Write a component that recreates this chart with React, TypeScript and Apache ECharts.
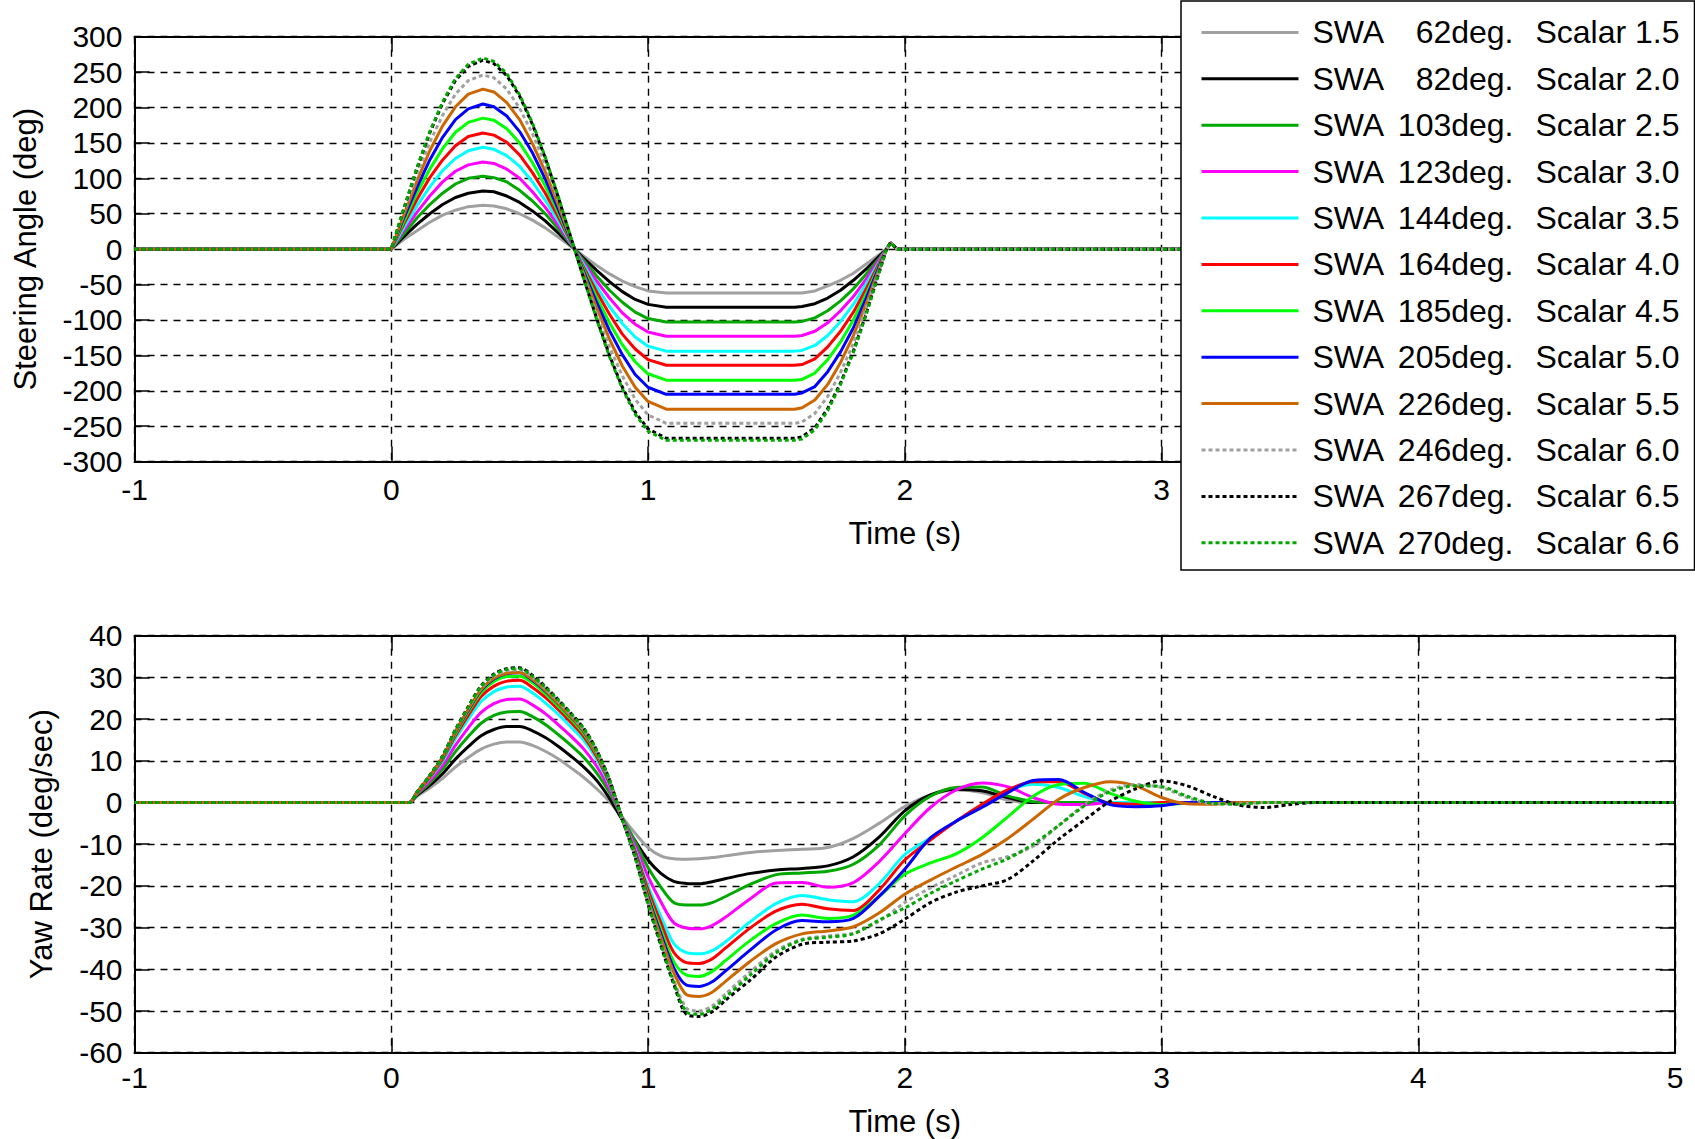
import React, { useEffect, useRef } from 'react';
import * as echarts from 'echarts';

const FONT = '"Liberation Sans", Arial, Helvetica, sans-serif';

// Legend entries
const SWA_DEG = [62, 82, 103, 123, 144, 164, 185, 205, 226, 246, 267, 270];
const SCALARS = ['1.5', '2.0', '2.5', '3.0', '3.5', '4.0', '4.5', '5.0', '5.5', '6.0', '6.5', '6.6'];
const COLORS = ['#a0a0a0', '#000000', '#00a800', '#ff00ff', '#00ffff', '#ff0000', '#00ff00', '#0000ff', '#cc6600', '#a0a0a0', '#000000', '#00a800'];
const DOTTED = [false, false, false, false, false, false, false, false, false, true, true, true];

// Top plot: steering angle (deg) vs time (s)
const T_SWA = [-1, 0, 0.05, 0.1, 0.15, 0.2, 0.25, 0.3, 0.357, 0.4, 0.45, 0.5, 0.55, 0.6, 0.65, 0.714, 0.75, 0.8, 0.85, 0.9, 0.95, 1.0, 1.071, 1.571, 1.6, 1.65, 1.7, 1.75, 1.8, 1.85, 1.9, 1.929, 1.945, 1.97, 5];
const SWA_62 = [0, 0, 14, 26, 38, 48, 55, 60, 62, 61, 57, 50, 41, 30, 17, 0, -10, -23, -35, -45, -53, -59, -62, -62, -62, -59, -52, -44, -34, -21, -8, 0, 9, 0, 0];
const SWA_82 = [0, 0, 18, 35, 50, 63, 73, 79, 82, 81, 75, 66, 54, 40, 23, 0, -13, -30, -46, -60, -71, -78, -82, -82, -81, -77, -69, -58, -44, -28, -10, 0, 9, 0, 0];
const SWA_103 = [0, 0, 22, 44, 63, 79, 92, 100, 103, 101, 95, 83, 68, 50, 29, 0, -16, -38, -58, -75, -89, -98, -103, -103, -102, -97, -87, -73, -56, -35, -13, 0, 9, 0, 0];
const SWA_123 = [0, 0, 27, 52, 75, 95, 110, 119, 123, 121, 113, 100, 81, 59, 34, 0, -19, -45, -69, -90, -106, -117, -123, -123, -122, -116, -104, -87, -67, -42, -15, 0, 9, 0, 0];
const SWA_144 = [0, 0, 31, 61, 88, 111, 128, 139, 144, 141, 132, 117, 95, 69, 40, 0, -22, -53, -81, -105, -124, -137, -144, -144, -143, -136, -122, -102, -78, -49, -18, 0, 9, 0, 0];
const SWA_164 = [0, 0, 36, 70, 101, 126, 146, 159, 164, 161, 151, 133, 108, 79, 46, 0, -26, -60, -92, -120, -141, -156, -164, -164, -163, -155, -138, -116, -89, -56, -20, 0, 9, 0, 0];
const SWA_185 = [0, 0, 40, 79, 113, 142, 165, 179, 185, 182, 170, 150, 122, 89, 52, 0, -29, -68, -104, -135, -159, -176, -185, -185, -184, -175, -156, -131, -100, -63, -23, 0, 9, 0, 0];
const SWA_205 = [0, 0, 45, 87, 126, 158, 183, 198, 205, 201, 188, 166, 136, 99, 57, 0, -32, -75, -115, -149, -177, -195, -205, -205, -203, -194, -173, -145, -111, -69, -25, 0, 9, 0, 0];
const SWA_226 = [0, 0, 49, 96, 139, 174, 201, 219, 226, 222, 207, 183, 149, 109, 63, 0, -35, -83, -127, -165, -195, -215, -226, -226, -224, -213, -191, -160, -122, -77, -28, 0, 9, 0, 0];
const SWA_246 = [0, 0, 54, 105, 151, 189, 219, 238, 246, 242, 226, 199, 163, 119, 69, 0, -38, -91, -138, -179, -212, -234, -246, -246, -244, -232, -208, -174, -133, -83, -31, 0, 9, 0, 0];
const SWA_267 = [0, 0, 58, 114, 164, 206, 238, 258, 267, 262, 245, 216, 176, 129, 74, 0, -42, -98, -150, -195, -230, -254, -267, -267, -265, -252, -225, -189, -144, -91, -33, 0, 9, 0, 0];
const SWA_270 = [0, 0, 59, 115, 166, 208, 241, 261, 270, 265, 248, 218, 178, 130, 75, 0, -42, -99, -152, -197, -233, -257, -270, -270, -268, -255, -228, -191, -146, -92, -33, 0, 9, 0, 0];
const SWA_SERIES = [SWA_62, SWA_82, SWA_103, SWA_123, SWA_144, SWA_164, SWA_185, SWA_205, SWA_226, SWA_246, SWA_267, SWA_270];

// Bottom plot: yaw rate (deg/sec) vs time (s)
const T_YAW = [-1, 0, 0.07,
  0.1, 0.15, 0.2, 0.25, 0.3,
  0.35, 0.4, 0.45, 0.5, 0.55,
  0.6, 0.65, 0.7, 0.75, 0.8,
  0.85, 0.9, 0.95, 1.0, 1.05,
  1.1, 1.15, 1.2, 1.25, 1.3,
  1.4, 1.5, 1.6, 1.7, 1.8,
  1.9, 2.0, 2.1, 2.2, 2.3,
  2.4, 2.5, 2.6, 2.7, 2.8,
  2.9, 3.0, 3.1, 3.2, 3.3,
  3.4, 3.5, 3.6, 5];
const YAW_62 = [0, 0, 0,
  1.5, 3.5, 5.8, 8.5, 10.8,
  12.8, 14, 14.5, 14.5, 13.7,
  12.3, 10.5, 8.3, 6, 3.3,
  0.2, -3.6, -7.4, -10.8, -12.8,
  -13.5, -13.6, -13.5, -13.2, -12.8,
  -12, -11.5, -11.2, -10.8, -8.6,
  -5, -1, 1.8, 3, 2.4,
  0.6, 0, 0, 0, 0,
  0, 0, 0, 0, 0,
  0, 0, 0, 0];
const YAW_82 = [0, 0, 0,
  1.7, 4.1, 6.9, 10.4, 13.4,
  16, 17.5, 18.2, 18.2, 17.2,
  15.6, 13.5, 11.1, 8.5, 5.3,
  1, -4.2, -9.2, -13.8, -17,
  -18.9, -19.4, -19.5, -19, -18.3,
  -17, -16.2, -15.8, -15.2, -13,
  -8.3, -2, 1.8, 3.2, 2.8,
  1.2, 0, 0, 0, 0,
  0, 0, 0, 0, 0,
  0, 0, 0, 0];
const YAW_103 = [0, 0, 0,
  1.9, 4.7, 8, 12.2, 15.8,
  19, 20.9, 21.7, 21.8, 20.6,
  18.7, 16.3, 13.7, 10.8, 7.1,
  2.4, -3.7, -9.4, -15.6, -20.3,
  -24, -24.6, -24.6, -24, -22.6,
  -19.6, -17.3, -16.9, -16.5, -14.8,
  -10.2, -3.2, 1.5, 3.6, 3.7,
  1.6, 0.2, 0, 0, 0,
  0, 0, 0, 0, 0,
  0, 0, 0, 0];
const YAW_123 = [0, 0, 0,
  2.1, 5.2, 8.9, 13.7, 17.9,
  21.6, 23.7, 24.7, 24.8, 23.4,
  21.3, 18.7, 15.9, 12.8, 8.7,
  3.3, -3.8, -10.4, -17.7, -23.8,
  -28.8, -30.1, -30.3, -29.5, -27.6,
  -23, -19.3, -19.2, -20.3, -19.2,
  -14.2, -7.5, -1.2, 3, 4.7,
  3.8, 1.2, -0.4, -0.5, 0,
  0, 0, 0, 0, 0,
  0, 0, 0, 0];
const YAW_144 = [0, 0, 0,
  2.3, 5.8, 9.9, 15.3, 20,
  24.2, 26.6, 27.7, 27.9, 26.3,
  23.9, 21.2, 18.1, 14.9, 10.3,
  4.2, -3.9, -11.3, -20, -27.3,
  -33.8, -36, -36.3, -35.5, -33.5,
  -28.5, -24.2, -22.3, -23.3, -23.8,
  -19.5, -12.5, -8.5, -4.5, -0.6,
  2.8, 4.4, 3.6, 1.4, 0,
  0, 0, 0, 0, 0,
  0, 0, 0, 0];
const YAW_164 = [0, 0, 0,
  2.3, 6, 10.3, 16, 20.9,
  25.4, 27.9, 29.1, 29.3, 27.6,
  25.2, 22.3, 19.2, 15.8, 11,
  4.6, -3.9, -11.7, -20.9, -28.8,
  -35.9, -38.4, -38.6, -37.5, -35,
  -30, -26, -24.4, -25.5, -25.9,
  -21, -13.8, -9, -4.5, -0.5,
  3, 5, 5, 2.2, -0.2,
  -0.4, 0, 0, 0, 0,
  0, 0, 0, 0];
const YAW_185 = [0, 0, 0,
  2.4, 6.2, 10.6, 16.5, 21.7,
  26.3, 29, 30.2, 30.3, 28.7,
  26.1, 23.1, 20, 16.5, 11.6,
  4.9, -3.9, -12.2, -22, -30.4,
  -38.1, -41.4, -41.7, -40.5, -38,
  -33, -29, -27, -27.8, -27,
  -22.5, -17.2, -14.5, -12.3, -8.5,
  -3.5, 1.5, 4.3, 4.6, 2.2,
  0.3, -0.5, -0.2, 0, 0,
  0, 0, 0, 0];
const YAW_205 = [0, 0, 0,
  2.4, 6.3, 10.8, 16.9, 22.1,
  26.9, 29.6, 30.9, 31.1, 29.3,
  26.7, 23.7, 20.5, 17, 12,
  5.1, -4, -12.4, -22.6, -31.5,
  -39.6, -43.8, -44.1, -43, -40.5,
  -35.3, -30.5, -28.3, -28.6, -27.8,
  -22.5, -16, -8.5, -4.5, -1.2,
  2.3, 5.3, 5.5, 2.4, -0.5,
  -1, -0.8, 0, 0, 0,
  0, 0, 0, 0];
const YAW_226 = [0, 0, 0,
  2.4, 6.3, 10.9, 17, 22.3,
  27.1, 29.8, 31, 31.2, 29.5,
  26.9, 23.8, 20.6, 17.1, 12,
  5.2, -4, -12.7, -23.1, -32.3,
  -40.7, -46.1, -46.5, -45.5, -43,
  -38, -33.8, -31.5, -30.8, -29.8,
  -26.5, -22, -18.6, -15.5, -12.5,
  -8.7, -4, 0.8, 3.6, 5,
  4, 1.2, -0.3, -0.4, 0,
  0, 0, 0, 0];
const YAW_246 = [0, 0, 0,
  2.5, 6.4, 11, 17.2, 22.6,
  27.5, 30.3, 31.6, 31.8, 30,
  27.3, 24.3, 21, 17.4, 12.3,
  5.3, -4, -13, -24, -33.6,
  -42.5, -49.3, -50, -48.8, -46,
  -40.5, -35.5, -32.8, -32, -31.3,
  -28.5, -24, -20.5, -17.5, -14.5,
  -13, -10.5, -5.5, -0.5, 3,
  4.3, 3.6, 1.2, -0.3, -0.3,
  0, 0, 0, 0];
const YAW_267 = [0, 0, 0,
  2.5, 6.5, 11.2, 17.5, 23,
  28, 30.8, 32.1, 32.3, 30.5,
  27.8, 24.7, 21.4, 17.8, 12.6,
  5.5, -4, -13.2, -24.4, -34.3,
  -43.5, -50.8, -51.3, -50.2, -47.5,
  -42.5, -37, -34, -33.5, -33.2,
  -31.5, -28, -24, -21.5, -20,
  -18.5, -14, -8.8, -4.2, 0.3,
  3.3, 5.2, 4, 1.5, -0.6,
  -1.2, -0.5, 0, 0];
const YAW_270 = [0, 0, 0,
  2.5, 6.5, 11.1, 17.4, 22.9,
  27.8, 30.6, 31.9, 32.1, 30.3,
  27.6, 24.6, 21.3, 17.7, 12.5,
  5.4, -4, -13.1, -24.2, -34,
  -43.1, -50.2, -50.8, -49.5, -46.8,
  -41.3, -36, -33, -32.3, -31.5,
  -28.2, -25.3, -21.8, -18.8, -16,
  -13.5, -10, -5.5, -0.8, 2.6,
  4, 3.8, 1.5, -0.2, -0.4,
  0, 0, 0, 0];
const YAW_SERIES = [YAW_62, YAW_82, YAW_103, YAW_123, YAW_144, YAW_164, YAW_185, YAW_205, YAW_226, YAW_246, YAW_267, YAW_270];

// Axis ranges
const X_MIN = -1, X_MAX = 5, X_STEP = 1;
const SWA_MIN = -300, SWA_MAX = 300, SWA_STEP = 50;
const YAW_MIN = -60, YAW_MAX = 40, YAW_STEP = 10;
// x tick labels visible on the upper plot (the rest sit under the legend box)
const TOP_X_LABEL_MAX = 3;

const seriesName = (i: number) => `SWA ${SWA_DEG[i]}deg. Scalar ${SCALARS[i]}`;

function buildOption(): any {
  const names = SWA_DEG.map((_, i) => seriesName(i));
  const lineStyleFor = (i: number) => ({
    color: COLORS[i],
    width: 3,
    type: DOTTED[i] ? [4, 3] : 'solid',
  });
  const gridLine = { show: true, lineStyle: { color: '#000', width: 1.4, type: [7, 6] } };
  const axisLine = { show: true, onZero: false, lineStyle: { color: '#000', width: 2 } };
  const tick = { show: true, inside: true, length: 15, lineStyle: { color: '#000', width: 1.5 } };
  const label = (margin: number, formatter?: any) => ({ color: '#000', fontSize: 30, fontFamily: FONT, margin, formatter });
  const nameStyle = { color: '#000', fontSize: 31, fontFamily: FONT };

  const xMain = (grid: number, margin: number, nameGap: number, formatter?: any) => ({
    type: 'value', gridIndex: grid, position: 'bottom', min: X_MIN, max: X_MAX, interval: X_STEP,
    axisLine, axisTick: tick, axisLabel: label(margin, formatter), splitLine: gridLine,
    name: 'Time (s)', nameLocation: 'middle', nameGap, nameTextStyle: nameStyle,
  });
  const xTop = (grid: number) => ({
    type: 'value', gridIndex: grid, position: 'top', min: X_MIN, max: X_MAX, interval: X_STEP,
    axisLine, axisTick: tick, axisLabel: { show: false }, splitLine: { show: false },
  });
  const yMain = (grid: number, min: number, max: number, step: number, name: string, nameGap: number) => ({
    type: 'value', gridIndex: grid, position: 'left', min, max, interval: step,
    axisLine, axisTick: tick, axisLabel: label(12), splitLine: gridLine,
    name, nameLocation: 'middle', nameRotate: 90, nameGap, nameTextStyle: nameStyle,
  });
  const yRight = (grid: number, min: number, max: number, step: number) => ({
    type: 'value', gridIndex: grid, position: 'right', min, max, interval: step,
    axisLine, axisTick: tick, axisLabel: { show: false }, splitLine: { show: false },
  });

  const richBase = { fontSize: 32, fontFamily: FONT, color: '#000', lineHeight: 36 };

  return {
    animation: false,
    backgroundColor: '#ffffff',
    textStyle: { fontFamily: FONT },
    grid: [
      { left: 134.5, top: 36.7, width: 1540.5, height: 424.9 },
      { left: 134.5, top: 635.7, width: 1540.5, height: 417 },
    ],
    xAxis: [
      xMain(0, 13, 56, (v: number) => (v <= TOP_X_LABEL_MAX ? String(v) : '')),
      xTop(0),
      xMain(1, 10, 53),
      xTop(1),
    ],
    yAxis: [
      yMain(0, SWA_MIN, SWA_MAX, SWA_STEP, 'Steering Angle (deg)', 94),
      yRight(0, SWA_MIN, SWA_MAX, SWA_STEP),
      yMain(1, YAW_MIN, YAW_MAX, YAW_STEP, 'Yaw Rate (deg/sec)', 78),
      yRight(1, YAW_MIN, YAW_MAX, YAW_STEP),
    ],
    legend: {
      data: names,
      orient: 'vertical',
      left: 1181,
      top: 1,
      backgroundColor: '#ffffff',
      borderColor: '#000',
      borderWidth: 1.5,
      borderRadius: 0,
      padding: [13.4, 15, 9.2, 19],
      itemWidth: 97,
      itemHeight: 2,
      itemGap: 10.4,
      selectedMode: false,
      lineStyle: { width: 3 },
      itemStyle: { opacity: 0 },
      textStyle: {
        ...richBase,
        rich: {
          s: { ...richBase, width: 9 },
          a: { ...richBase, width: 75, align: 'left' },
          b: { ...richBase, width: 126, align: 'right' },
          c: { ...richBase, width: 166, align: 'right' },
        },
      },
      formatter: (name: string) => {
        const i = names.indexOf(name);
        return `{s| }{a|SWA}{b|${SWA_DEG[i]}deg.}{c|Scalar ${SCALARS[i]}}`;
      },
    },
    series: [
      ...SWA_SERIES.map((vals, i) => ({
        type: 'line',
        name: names[i],
        xAxisIndex: 0,
        yAxisIndex: 0,
        data: T_SWA.map((t, j) => [t, vals[j]]),
        symbol: 'none',
        showSymbol: false,
        smooth: false,
        color: COLORS[i],
        lineStyle: lineStyleFor(i),
      })),
      ...YAW_SERIES.map((vals, i) => ({
        type: 'line',
        name: names[i],
        xAxisIndex: 2,
        yAxisIndex: 2,
        data: T_YAW.map((t, j) => [t, vals[j]]),
        symbol: 'none',
        showSymbol: false,
        smooth: 0.3,
        color: COLORS[i],
        lineStyle: lineStyleFor(i),
      })),
    ],
  };
}

export default function App() {
  const ref = useRef<HTMLDivElement>(null);
  useEffect(() => {
    if (!ref.current) return;
    const chart = echarts.init(ref.current, null, { renderer: 'svg' });
    chart.setOption(buildOption());
    return () => chart.dispose();
  }, []);
  return (
    <div
      ref={ref}
      style={{ position: 'fixed', left: 0, top: 0, width: 1695, height: 1139, background: '#fff' }}
    />
  );
}
